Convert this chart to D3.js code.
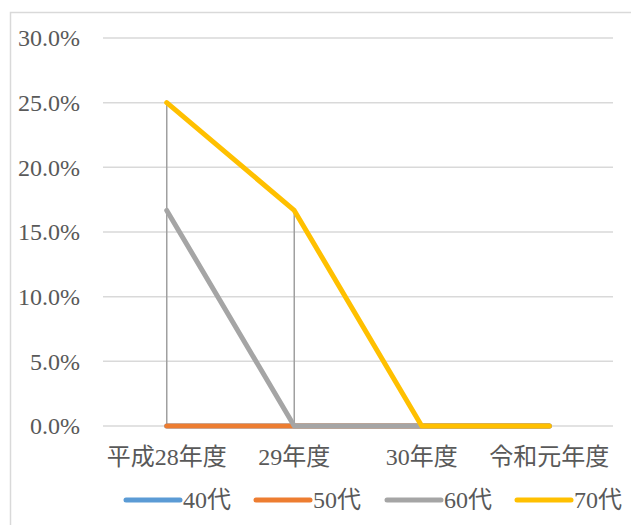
<!DOCTYPE html>
<html>
<head>
<meta charset="utf-8">
<script src="https://cdn.jsdelivr.net/npm/d3@7/dist/d3.min.js"></script>
<style>
  body { margin: 0; background: #fff; }
  svg text { font-family: "Liberation Serif", "Noto Sans CJK JP", serif; fill: #595959; }
</style>
</head>
<body>
<div id="chart"></div>
<script>
const categories = ["平成28年度", "29年度", "30年度", "令和元年度"];
const seriesNames = ["40代", "50代", "60代", "70代"];
const values40 = [0, 0, 0, 0];
const values50 = [0, 0, 0, 0];
const values60 = [0.1667, 0, 0, 0];
const values70 = [0.25, 0.1667, 0, 0];
const yTicks = [0, 0.05, 0.10, 0.15, 0.20, 0.25, 0.30];

const colors = ["#5B9BD5", "#ED7D31", "#A5A5A5", "#FFC000"];
const series = [values40, values50, values60, values70].map((v, i) => ({ name: seriesNames[i], values: v, color: colors[i] }));

const width = 631, height = 525;
const svg = d3.select("#chart").append("svg").attr("width", width).attr("height", height);

// chart frame
svg.append("rect").attr("x", 10.5).attr("y", 12.5).attr("width", 640).attr("height", 540)
  .attr("fill", "none").attr("stroke", "#d9d9d9").attr("stroke-width", 1.5);

const x = d3.scaleBand().domain(categories).range([103, 613]);
const y = d3.scaleLinear().domain([0, 0.30]).range([426, 38]);

// gridlines
svg.append("g").selectAll("line").data(yTicks).join("line")
  .attr("x1", 103).attr("x2", 613)
  .attr("y1", (d) => y(d)).attr("y2", (d) => y(d))
  .attr("stroke", "#d9d9d9").attr("stroke-width", 1.5);

// y axis labels
const yAxis = svg.append("g").attr("transform", "translate(80,0)")
  .call(d3.axisLeft(y).tickValues(yTicks).tickFormat(d3.format(".1%")).tickSize(0).tickPadding(0))
  .attr("font-family", null);
yAxis.select(".domain").remove();
yAxis.selectAll("text").attr("font-size", 24);

// x axis labels
const xAxis = svg.append("g").attr("transform", "translate(0,426)")
  .call(d3.axisBottom(x).tickSize(0).tickPadding(24))
  .attr("font-family", null);
xAxis.select(".domain").remove();
xAxis.selectAll("text").attr("font-size", 24).attr("dy", "0.62em");

const cx = (c) => x(c) + x.bandwidth() / 2;

// drop lines
svg.append("g").selectAll("line").data(categories).join("line")
  .attr("x1", (c) => cx(c)).attr("x2", (c) => cx(c))
  .attr("y1", (c, i) => y(d3.max(series, (s) => s.values[i])))
  .attr("y2", y(0))
  .attr("stroke", "#a0a0a0").attr("stroke-width", 1.5);

const line = d3.line().x((d, i) => cx(categories[i])).y((d) => y(d));
svg.append("g").selectAll("path").data(series).join("path")
  .attr("d", (s) => line(s.values))
  .attr("fill", "none").attr("stroke", (s) => s.color).attr("stroke-width", 5)
  .attr("stroke-linecap", "round").attr("stroke-linejoin", "round");

// legend
const legendX = [126, 256, 387, 517];
const legend = svg.append("g").selectAll("g").data(series).join("g")
  .attr("transform", (s, i) => `translate(${legendX[i]},500)`);
legend.append("line").attr("x1", 0).attr("x2", 54)
  .attr("stroke", (s) => s.color).attr("stroke-width", 5).attr("stroke-linecap", "round");
legend.append("text").attr("x", 57).attr("dy", "0.35em").attr("font-size", 24).text((s) => s.name);
</script>
</body>
</html>
